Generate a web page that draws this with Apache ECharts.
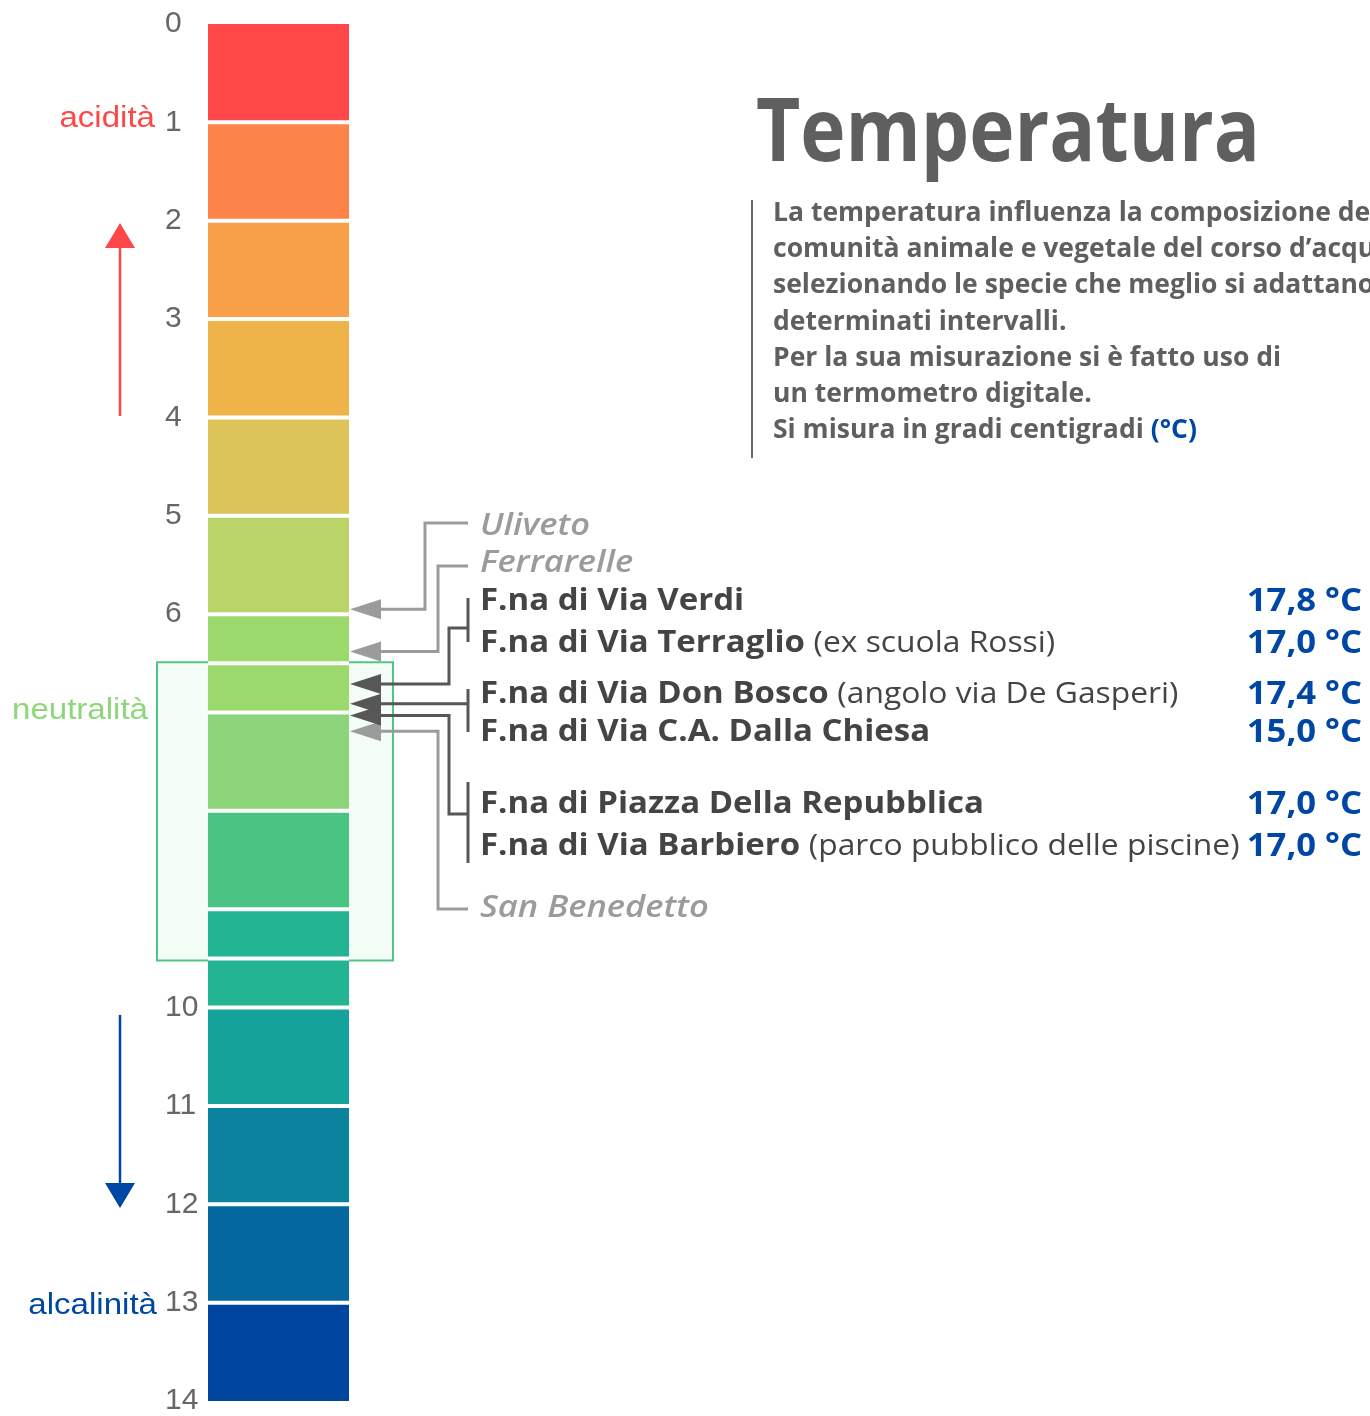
<!DOCTYPE html>
<html>
<head>
<meta charset="utf-8">
<title>Temperatura</title>
<script src="https://cdn.jsdelivr.net/npm/echarts@6/dist/echarts.min.js"></script>
<style>
  html, body { margin: 0; padding: 0; background: #fff; }
  #chart { width: 1370px; height: 1416px; }
</style>
</head>
<body>
<div id="chart"></div>
<script>
  // scala del pH, un colore per ogni unità
  var phMin = 0
  var phMax = 14
  var segmentColors = ['#ff4747', '#fc8449', '#f7a047', '#efb449', '#dcc35a', '#bbd468', '#9bd96c',
    '#8cd479', '#49c483', '#23b592', '#14a29a', '#0b839e', '#0567a0', '#0046a0']
  var neutralRange = [6.5, 9.5]

  // acque in bottiglia
  var bottledNames = ['Uliveto', 'Ferrarelle', 'San Benedetto']
  var bottledPh = [5.95, 6.38, 7.19]

  // fontane (a coppie sulla stessa freccia)
  var fountainNames = ['F.na di Via Verdi', 'F.na di Via Terraglio', 'F.na di Via Don Bosco',
    'F.na di Via C.A. Dalla Chiesa', 'F.na di Piazza Della Repubblica', 'F.na di Via Barbiero']
  var fountainNotes = ['', '(ex scuola Rossi)', '(angolo via De Gasperi)', '', '', '(parco pubblico delle piscine)']
  var fountainTemps = [17.8, 17.0, 17.4, 15.0, 17.0, 17.0]
  var groupPh = [6.71, 6.91, 7.03]

  var titleText = 'Temperatura'
  var descLines = [
    'La temperatura influenza la composizione della',
    'comunità animale e vegetale del corso d\u2019acqua',
    'selezionando le specie che meglio si adattano a',
    'determinati intervalli.',
    'Per la sua misurazione si è fatto uso di',
    'un termometro digitale.',
    'Si misura in gradi centigradi '
  ]
  var descUnit = '(°C)'

  // impaginazione
  var LEFT_FONT = '"Liberation Sans", Arial, sans-serif'
  var MYRIAD = '"Open Sans", "Noto Sans", sans-serif'
  var ASC_LEFT = 0.81
  var ASC_MYRIAD = 0.785
  var LIGHT = '#9b9b9b'
  var DARK = '#575757'
  var BLUE = '#0047a5'
  var labelX = 480
  var bracketX = 468
  var bottledBaseline = [535, 572, 917]
  var bottledLineY = [523, 566, 909]
  var bottledElbowX = [425, 438, 438]
  var fountainBaseline = [610, 652, 703, 741, 813, 855]
  var groupStemY = [628, null, 814]
  var groupElbowX = [449, null, 449]
  var groupBracket = [[598, 642], [689, 732], [782, 863]]

  var measureCtx = document.createElement('canvas').getContext('2d')
  function textWidth (text, font) {
    measureCtx.font = font
    return measureCtx.measureText(text).width
  }
  // testo posizionato sulla linea di base
  function txt (text, x, baseline, weight, size, family, asc, fill, align, scaleX) {
    return {
      type: 'text',
      x: x,
      y: baseline - asc * size,
      scaleX: scaleX || 1,
      style: { text: text, font: weight + ' ' + size + 'px ' + family, fill: fill, align: align || 'left', verticalAlign: 'top' }
    }
  }

  // segmenti della barra, spezzati ai bordi della fascia neutra
  var segments = []
  segmentColors.forEach(function (c, i) {
    var cuts = [i]
    neutralRange.forEach(function (v) { if (v > i && v < i + 1) cuts.push(v) })
    cuts.push(i + 1)
    for (var k = 0; k < cuts.length - 1; k++) segments.push([cuts[k], cuts[k + 1], i])
  })

  // frecce
  var arrows = []
  bottledPh.forEach(function (ph, i) {
    arrows.push({ value: [1, ph], color: LIGHT, elbowX: bottledElbowX[i], lineY: bottledLineY[i], bracket: null })
  })
  groupPh.forEach(function (ph, i) {
    arrows.push({ value: [1, ph], color: DARK, elbowX: groupElbowX[i], lineY: groupStemY[i], bracket: groupBracket[i] })
  })

  var graphics = []
  // titolo e testo
  graphics.push(txt(titleText, 756, 161, 'bold', 88, MYRIAD, ASC_MYRIAD, '#5f5f5f', 'left', 0.87))
  graphics.push({ type: 'line', shape: { x1: 752, y1: 200, x2: 752, y2: 458 }, style: { stroke: '#6a6a6a', lineWidth: 2 } })
  var descScale = 1.02
  descLines.forEach(function (t, i) {
    graphics.push(txt(t, 773, 221 + i * 36.2, 'bold', 26, MYRIAD, ASC_MYRIAD, '#5f5f5f', 'left', descScale))
  })
  var unitX = 773 + textWidth(descLines[6], 'bold 26px ' + MYRIAD) * descScale
  graphics.push(txt(descUnit, unitX, 221 + 6 * 36.2, 'bold', 26, MYRIAD, ASC_MYRIAD, BLUE, 'left', descScale))

  // etichette a sinistra
  var sideLabels = [['acidità', '#ff4747', 128, 155], ['neutralità', '#8dd679', 720, 148], ['alcalinità', BLUE, 1315, 157]]
  sideLabels.forEach(function (s) {
    graphics.push(txt(s[0], s[3], s[2], 'normal', 29, LEFT_FONT, ASC_LEFT, s[1], 'right', 1.14))
  })
  graphics.push({ type: 'line', shape: { x1: 120, y1: 246, x2: 120, y2: 416 }, style: { stroke: '#ff4747', lineWidth: 2.5 } })
  graphics.push({ type: 'polygon', shape: { points: [[120, 223], [105, 248], [135, 248]] }, style: { fill: '#ff4747' } })
  graphics.push({ type: 'line', shape: { x1: 120, y1: 1015, x2: 120, y2: 1185 }, style: { stroke: BLUE, lineWidth: 2.5 } })
  graphics.push({ type: 'polygon', shape: { points: [[120, 1208], [105, 1183], [135, 1183]] }, style: { fill: BLUE } })

  // nomi delle acque
  bottledNames.forEach(function (n, i) {
    graphics.push(txt(n, labelX, bottledBaseline[i], 'italic 600', 30, MYRIAD, ASC_MYRIAD, LIGHT, 'left', 1.15))
  })
  var labelScale = 1.1
  var noteScale = 1.06
  fountainNames.forEach(function (n, i) {
    var y = fountainBaseline[i]
    graphics.push(txt(n, labelX, y, 'bold', 30, MYRIAD, ASC_MYRIAD, '#444', 'left', labelScale))
    if (fountainNotes[i]) {
      var nx = labelX + textWidth(n + ' ', 'bold 30px ' + MYRIAD) * labelScale
      graphics.push(txt(fountainNotes[i], nx, y, 'normal', 30, MYRIAD, ASC_MYRIAD, '#444', 'left', noteScale))
    }
    var temp = fountainTemps[i].toFixed(1).replace('.', ',') + ' °C'
    graphics.push(txt(temp, 1362, y + 1, 'bold', 33, MYRIAD, ASC_MYRIAD, BLUE, 'right', 1.05))
  })

  var chart = echarts.init(document.getElementById('chart'))
  var option = {
    backgroundColor: '#fff',
    animation: false,
    grid: { left: 208, width: 141, top: 24, bottom: 14 },
    xAxis: { type: 'value', min: 0, max: 1, show: false },
    yAxis: {
      type: 'value',
      min: phMin,
      max: phMax,
      interval: 1,
      inverse: true,
      axisLine: { show: false },
      axisTick: { show: false },
      splitLine: { show: false },
      axisLabel: { align: 'left', margin: 43, fontSize: 30, color: '#666', fontFamily: LEFT_FONT }
    },
    graphic: graphics,
    series: [
      {
        // fascia neutra
        type: 'custom',
        z: 1,
        clip: false,
        data: [neutralRange],
        renderItem: function (params, api) {
          var a = api.coord([0, api.value(0)])
          var b = api.coord([1, api.value(1)])
          return {
            type: 'rect',
            shape: { x: a[0] - 51, y: a[1] - 1, width: b[0] - a[0] + 95, height: b[1] - a[1] + 3 },
            style: { fill: '#f3fcf5', stroke: '#4fc689', lineWidth: 2 }
          }
        }
      },
      {
        // scala colorata
        type: 'custom',
        z: 2,
        clip: false,
        data: segments,
        renderItem: function (params, api) {
          var s = api.value(0)
          var e = api.value(1)
          var a = api.coord([0, s])
          var b = api.coord([1, e])
          var t = a[1] + (s > phMin ? 2 : 0)
          var btm = b[1] - (e < phMax ? 2 : 0)
          return {
            type: 'group',
            children: [
              { type: 'rect', shape: { x: a[0], y: a[1], width: b[0] - a[0], height: b[1] - a[1] }, style: { fill: '#fff' } },
              { type: 'rect', shape: { x: a[0], y: t, width: b[0] - a[0], height: btm - t }, style: { fill: segmentColors[api.value(2)] } }
            ]
          }
        }
      },
      {
        // frecce e collegamenti
        type: 'custom',
        z: 3,
        clip: false,
        data: arrows,
        renderItem: function (params, api) {
          var item = arrows[params.dataIndex]
          var tip = api.coord([1, api.value(1)])
          var x0 = tip[0] + 1
          var y = tip[1]
          var pts = item.elbowX == null
            ? [[x0 + 28, y], [bracketX, y]]
            : [[x0 + 28, y], [item.elbowX, y], [item.elbowX, item.lineY], [bracketX, item.lineY]]
          var children = [
            { type: 'polyline', shape: { points: pts }, style: { stroke: item.color, lineWidth: 3, fill: null } },
            { type: 'polygon', shape: { points: [[x0, y], [x0 + 31, y - 10], [x0 + 31, y + 10]] }, style: { fill: item.color } }
          ]
          if (item.bracket) {
            children.push({ type: 'line', shape: { x1: bracketX, y1: item.bracket[0], x2: bracketX, y2: item.bracket[1] }, style: { stroke: item.color, lineWidth: 3 } })
          }
          return { type: 'group', children: children }
        }
      }
    ]
  }
  chart.setOption(option)
  window.addEventListener('resize', function () {
    chart.resize()
  })
</script>
</body>
</html>
